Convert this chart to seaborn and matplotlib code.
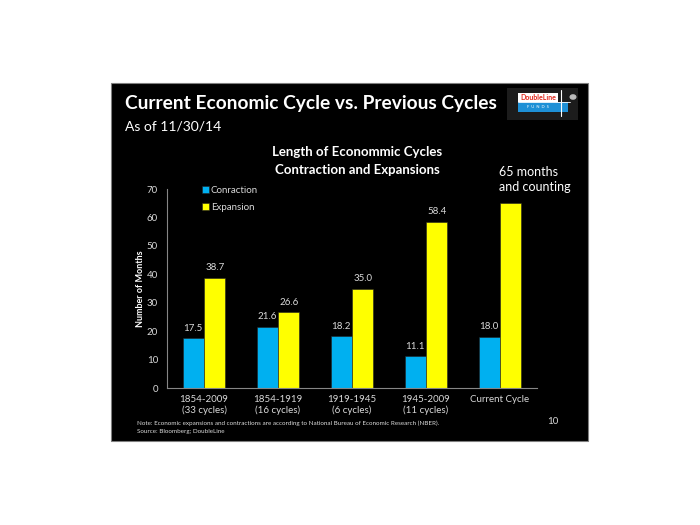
import numpy as np
import pandas as pd
import matplotlib
matplotlib.use('Agg')
import matplotlib.pyplot as plt
from matplotlib.patches import Rectangle
from matplotlib.lines import Line2D
import seaborn as sns

# ============================================================
# Data
# ============================================================

PERIODS = ['1854-2009\n(33 cycles)', '1854-1919\n(16 cycles)', '1919-1945\n(6 cycles)',
           '1945-2009\n(11 cycles)', 'Current Cycle']
CONTRACTION = [17.5, 21.6, 18.2, 11.1, 18.0]
EXPANSION = [38.7, 26.6, 35.0, 58.4, 65.0]
SERIES = ['Conraction', 'Expansion']
Y_TICKS = [0, 10, 20, 30, 40, 50, 60, 70]

BLUE = '#00B0F0'
YELLOW = '#FFFF00'
GREY = '#868686'
LABEL = '#D9D9D9'

df = pd.DataFrame({
    'period': PERIODS * 2,
    'months': CONTRACTION + EXPANSION,
    'series': [SERIES[0]] * len(PERIODS) + [SERIES[1]] * len(PERIODS),
})

# ============================================================
# Figure
# ============================================================

sns.set_style('dark')
plt.rcParams['font.family'] = ['Lato', 'DejaVu Sans']

fig = plt.figure(figsize=(7, 5.25), dpi=100, facecolor='white')

def px(x, y):
    return x / 700, 1 - y / 525

# black slide
x0, y1 = px(111, 83)
x1, y0 = px(588, 441)
fig.patches.append(Rectangle((x0, y0), x1 - x0, y1 - y0, transform=fig.transFigure,
                             facecolor='black', edgecolor='#7f7f7f', lw=0.8, zorder=-5))

ax = fig.add_axes([167 / 700, 1 - 388 / 525, 370 / 700, 199 / 525])
ax.set_facecolor('none')
ax.set_zorder(2)

sns.barplot(data=df, x='period', y='months', hue='series', palette=[BLUE, YELLOW],
            width=0.58, ax=ax, edgecolor='#222222', linewidth=0.4, saturation=1)

for i, cont in enumerate(ax.containers):
    vals = CONTRACTION if i == 0 else EXPANSION
    labels = [f'{v:.1f}' for v in vals]
    if i == 1:
        labels[-1] = ''
    ax.bar_label(cont, labels=labels, padding=4, color=LABEL, fontsize=7)

ax.set_ylim(0, 70)
ax.set_yticks(Y_TICKS)
ax.set_xlim(-0.5, len(PERIODS) - 0.5)
ax.set_xlabel('')
ax.set_ylabel('Number of Months', color='white', fontsize=6.5, fontweight='bold', labelpad=1)
ax.grid(False)
ax.tick_params(axis='y', colors=GREY, labelcolor=LABEL, labelsize=7, length=3, width=0.8)
ax.tick_params(axis='x', which='major', length=0, labelcolor=LABEL, labelsize=7, pad=5)
ax.set_xticks(np.arange(-0.5, len(PERIODS)), minor=True)
ax.tick_params(axis='x', which='minor', colors=GREY, length=4, width=0.8, direction='inout')
for s in ['top', 'right']:
    ax.spines[s].set_visible(False)
for s in ['left', 'bottom']:
    ax.spines[s].set_color(GREY)
    ax.spines[s].set_linewidth(0.8)

leg = ax.legend(loc='upper left', bbox_to_anchor=(0.07, 1.06), frameon=False, fontsize=7,
                labelcolor=LABEL, handlelength=0.75, handleheight=0.75, handletextpad=0.2,
                labelspacing=0.85)

# ============================================================
# Slide text
# ============================================================

fig.text(*px(125, 104), 'Current Economic Cycle vs. Previous Cycles', color='white',
         fontsize=13.8, fontweight='bold', va='center', ha='left')
fig.text(*px(125, 127), 'As of 11/30/14', color='white', fontsize=10, va='center', ha='left')
fig.text(*px(357, 152), 'Length of Econommic Cycles', color='white', fontsize=9.5,
         fontweight='bold', va='center', ha='center')
fig.text(*px(357, 170), 'Contraction and Expansions', color='white', fontsize=9.5,
         fontweight='bold', va='center', ha='center')
fig.text(*px(499, 172), '65 months', color='white', fontsize=9, va='center', ha='left')
fig.text(*px(499, 187), 'and counting', color='white', fontsize=9, va='center', ha='left')
fig.text(*px(137, 423), 'Note: Economic expansions and contractions are according to National '
         'Bureau of Economic Research (NBER).', color=LABEL, fontsize=4.5, va='center')
fig.text(*px(137, 432), 'Source: Bloomberg; DoubleLine', color=LABEL, fontsize=4.5, va='center')
fig.text(*px(553, 422), '10', color=LABEL, fontsize=7, va='center', ha='center')

# DoubleLine logo
def box(xa, ya, xb, yb, **kw):
    a, d = px(xa, ya)
    b, c = px(xb, yb)
    fig.patches.append(Rectangle((a, c), b - a, d - c, transform=fig.transFigure, **kw))

box(507, 88, 578, 120, facecolor='#1c1c1c', lw=0)
box(518, 93, 558, 102, facecolor='white', lw=0)
box(518, 102, 568, 112, facecolor='#1E90D6', lw=0)
fig.text(*px(538, 97.5), 'DoubleLine', color='#E0261B', fontsize=5, fontweight='bold',
         va='center', ha='center')
fig.text(*px(538, 107), 'F  U  N  D  S', color='white', fontsize=3, va='center', ha='center')
fig.lines.append(Line2D([561 / 700, 561 / 700], [1 - 90 / 525, 1 - 116 / 525],
                        transform=fig.transFigure, color='white', lw=0.8))
fig.lines.append(Line2D([518 / 700, 570 / 700], [1 - 102 / 525, 1 - 102 / 525],
                        transform=fig.transFigure, color='white', lw=0.6))
fig.patches.append(plt.Circle(px(573, 97), 0.004, transform=fig.transFigure,
                              color='#bbbbbb'))

fig.savefig('out.png', dpi=100, facecolor='white')
